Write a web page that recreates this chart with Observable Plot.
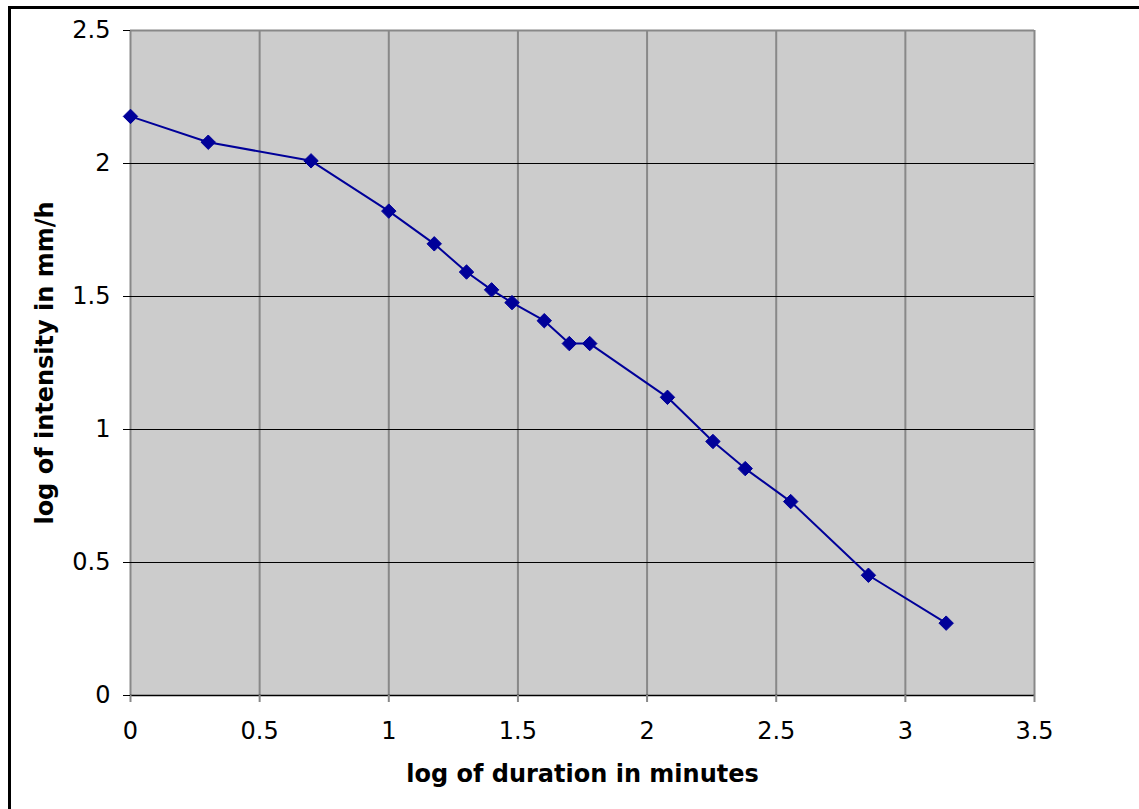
<!DOCTYPE html>
<html>
<head>
<meta charset="utf-8">
<script src="https://cdn.jsdelivr.net/npm/d3@7"></script>
<script src="https://cdn.jsdelivr.net/npm/@observablehq/plot@0.6"></script>
<style>
  html, body { margin: 0; padding: 0; background: #fff; }
  #wrap { position: relative; width: 1139px; height: 809px; overflow: hidden; }
  #border { position: absolute; left: 8px; top: 6px; width: 1200px; height: 900px;
            border-top: 3px solid #000; border-left: 3px solid #000; box-sizing: border-box; }
  #chart { position: absolute; left: 0; top: 0; }
</style>
</head>
<body>
<div id="wrap"><div id="border"></div><div id="chart"></div></div>
<script>
const logDuration = [0, 0.301, 0.699, 1.0, 1.176, 1.301, 1.398, 1.477, 1.602, 1.699, 1.778, 2.079, 2.255, 2.380, 2.556, 2.857, 3.158];
const logIntensity = [2.177, 2.080, 2.010, 1.821, 1.698, 1.592, 1.525, 1.477, 1.409, 1.323, 1.323, 1.121, 0.955, 0.853, 0.729, 0.452, 0.272];
const xTicks = [0, 0.5, 1, 1.5, 2, 2.5, 3, 3.5];
const yTicks = [0, 0.5, 1, 1.5, 2, 2.5];
const xTitle = "log of duration in minutes";
const yTitle = "log of intensity in mm/h";

const data = logDuration.map((x, i) => ({x, y: logIntensity[i]}));
const fmt = d => String(d);
const font = "DejaVu Sans, Verdana, sans-serif";

const chart = Plot.plot({
  width: 1139,
  height: 809,
  marginLeft: 130,
  marginRight: 105,
  marginTop: 30,
  marginBottom: 114,
  style: {fontFamily: font, background: "transparent", overflow: "visible"},
  x: {domain: [0, 3.5]},
  y: {domain: [0, 2.5]},
  marks: [
    Plot.frame({fill: "#CCCCCC", stroke: null}),
    Plot.ruleX(xTicks, {stroke: "#888888", strokeWidth: 2}),
    Plot.ruleY(yTicks.filter(d => d > 0 && d < 2.5), {stroke: "#000", strokeWidth: 1}),
    Plot.ruleY([2.5], {stroke: "#888888", strokeWidth: 2}),
    Plot.ruleY([0], {stroke: "#000", strokeWidth: 1.5}),
    Plot.axisX({ticks: xTicks, tickFormat: fmt, tickSize: 7, tickPadding: 19, stroke: "#888888", strokeWidth: 2, fontSize: 24, fill: "#000", label: null}),
    Plot.axisY({ticks: yTicks, tickFormat: fmt, tickSize: 7, tickPadding: 13, stroke: "#000", strokeWidth: 1, fontSize: 24, fill: "#000", label: null}),
    Plot.line(data, {x: "x", y: "y", stroke: "#000099", strokeWidth: 2}),
    Plot.dot(data, {x: "x", y: "y", symbol: "diamond2", r: 6.5, fill: "#000099", stroke: "#000099", strokeWidth: 1}),
    Plot.text([xTitle], {frameAnchor: "bottom", dy: 79, lineAnchor: "middle", textAnchor: "middle", fontSize: 24, fontWeight: "bold", fill: "#000", text: d => d}),
    Plot.text([yTitle], {frameAnchor: "left", dx: -85, rotate: -90, lineAnchor: "middle", textAnchor: "middle", fontSize: 24, fontWeight: "bold", fill: "#000", text: d => d})
  ]
});
document.getElementById("chart").appendChild(chart);
</script>
</body>
</html>
